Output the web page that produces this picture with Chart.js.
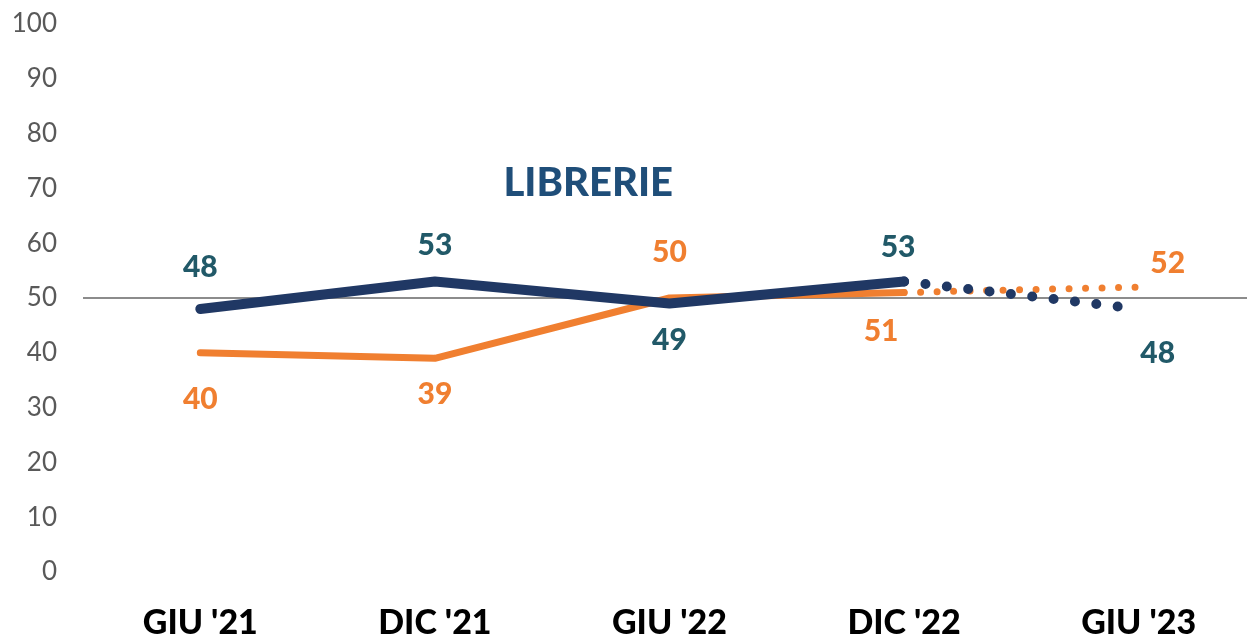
<!DOCTYPE html>
<html>
<head>
<meta charset="utf-8">
<script src="https://cdn.jsdelivr.net/npm/chart.js@4/dist/chart.umd.min.js"></script>
<style>
  html, body { margin: 0; padding: 0; background: #fff; overflow: hidden; }
  #wrap { width: 1256px; height: 636px; }
</style>
</head>
<body>
<div id="wrap"><canvas id="chart" width="1256" height="636"></canvas></div>
<script>
// DATA
const periodi = ["GIU '21", "DIC '21", "GIU '22", "DIC '22", "GIU '23"];
const serieBlu = [48, 53, 49, 53, 48];
const serieArancio = [40, 39, 50, 51, 52];
const yTicks = [0, 10, 20, 30, 40, 50, 60, 70, 80, 90, 100];

const BLU = '#203864';
const BLU_LABEL = '#215968';
const ARANCIO = '#F07F30';

// label offsets (dx, dy) per point
const labelOffsets = [
  [[0, -42], [0, -36], [0, 37], [-6, -34], [19, 44]],
  [[0, 47], [0, 36], [0, -46], [-23, 39], [29, -24]]
];
const labelColors = [BLU_LABEL, ARANCIO];

const valueLabels = {
  id: 'valueLabels',
  afterDatasetsDraw(chart) {
    const ctx = chart.ctx;
    ctx.save();
    ctx.font = "900 30px Lato, 'DejaVu Sans', sans-serif";
    ctx.textAlign = 'center';
    ctx.textBaseline = 'middle';
    chart.data.datasets.forEach((ds, di) => {
      const meta = chart.getDatasetMeta(di);
      meta.data.forEach((pt, i) => {
        const off = labelOffsets[di][i];
        ctx.fillStyle = labelColors[di];
        ctx.fillText(ds.data[i], pt.x + off[0], pt.y + off[1]);
      });
    });
    // chart title inside the plot
    const x = chart.scales.x, y = chart.scales.y;
    ctx.font = "900 40px Lato, 'DejaVu Sans', sans-serif";
    ctx.fillStyle = '#1F4E79';
    ctx.fillText('LIBRERIE', (x.getPixelForValue(1) + x.getPixelForValue(2)) / 2 + 36, y.getPixelForValue(71));
    ctx.restore();
  }
};

const dotted = (w) => ({
  borderDash: ctx => ctx.p0DataIndex === 3 ? [0, w] : undefined,
  borderCapStyle: 'round'
});

new Chart(document.getElementById('chart'), {
  type: 'line',
  data: {
    labels: periodi,
    datasets: [
      {
        label: 'Blu',
        data: serieBlu,
        borderColor: BLU,
        borderWidth: 10,
        pointRadius: 0,
        borderCapStyle: 'round',
        borderJoinStyle: 'round',
        segment: dotted(21.5)
      },
      {
        label: 'Arancio',
        data: serieArancio,
        borderColor: ARANCIO,
        borderWidth: 7,
        pointRadius: 0,
        borderCapStyle: 'round',
        borderJoinStyle: 'round',
        segment: dotted(16.5)
      }
    ]
  },
  options: {
    responsive: false,
    animation: false,
    layout: { padding: { top: 24, right: 0, left: 0, bottom: 0 } },
    plugins: {
      legend: { display: false },
      tooltip: { enabled: false },
      title: { display: false }
    },
    scales: {
      x: {
        offset: true,
        grid: { display: false, drawTicks: false },
        border: { display: false },
        ticks: {
          color: '#000',
          padding: 31,
          font: { family: "Lato, 'DejaVu Sans', sans-serif", size: 34, weight: '900' }
        },
        afterFit: s => { s.height = 64; }
      },
      y: {
        min: 0,
        max: 100,
        afterBuildTicks: s => { s.ticks = yTicks.map(v => ({ value: v })); },
        grid: {
          drawTicks: false,
          lineWidth: 2,
          color: c => c.tick && c.tick.value === 50 ? '#8C8C8C' : 'rgba(0,0,0,0)'
        },
        border: { display: false },
        ticks: {
          color: '#595959',
          padding: 26,
          font: { family: "Lato, 'DejaVu Sans', sans-serif", size: 26 }
        },
        afterFit: s => { s.width = 83; s.paddingTop = 0; s.paddingBottom = 0; }
      }
    }
  },
  plugins: [valueLabels]
});
</script>
</body>
</html>
